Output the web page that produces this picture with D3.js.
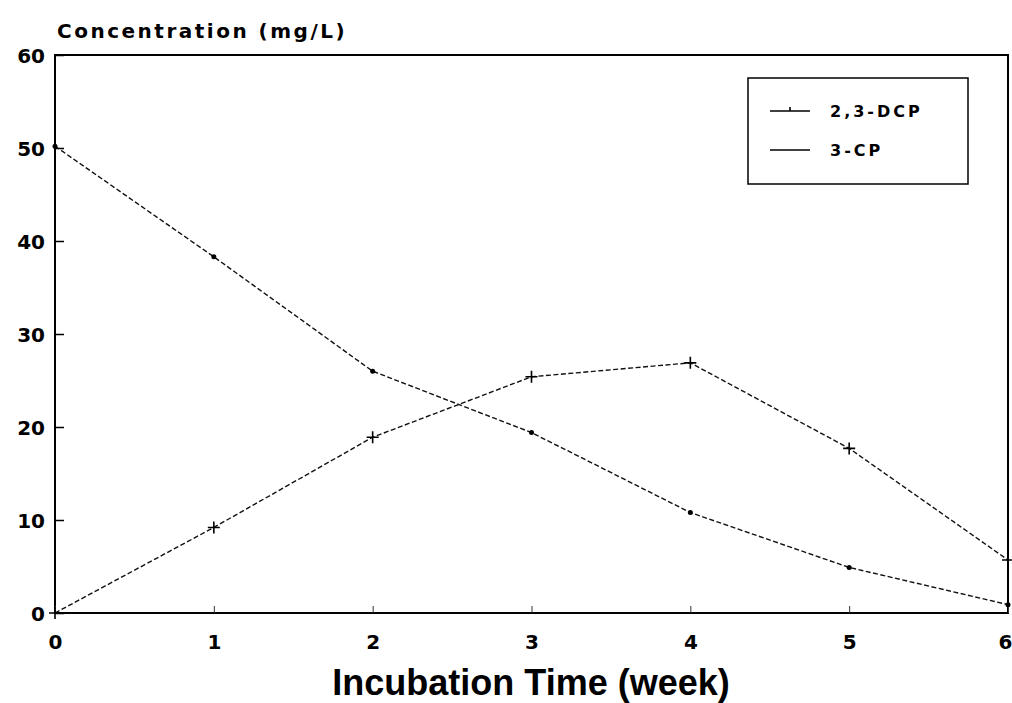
<!doctype html>
<html>
<head>
    <script src="https://d3js.org/d3.v7.min.js"></script>
    <style type="text/css">
        body { margin: 0; background: #fff; }
        svg { font-family: "DejaVu Sans", "Liberation Sans", sans-serif; font-weight: bold; }
        .frame { fill: none; stroke: #000; stroke-width: 2; }
        .series { fill: none; stroke: #111; stroke-width: 1.4; stroke-dasharray: 5 2.5; }
        .tick-lbl { font-size: 20px; fill: #000; font-family: "DejaVu Sans", sans-serif; font-weight: bold; }
    </style>
</head>
<body>
<svg id="board" width="1012" height="703"></svg>
<script type="text/javascript">
    var weeks = [0, 1, 2, 3, 4, 5, 6];
    var dcp = [0, 9.2, 18.9, 25.4, 26.9, 17.7, 5.7];
    var cp = [50.2, 38.3, 26.0, 19.4, 10.8, 4.9, 0.9];
    var yTicks = [0, 10, 20, 30, 40, 50, 60];
    var seriesNames = ["2,3-DCP", "3-CP"];

    var svg = d3.select("#board");

    var x = d3.scaleLinear().domain([0, 6]).range([55, 1008]);
    var y = d3.scaleLinear().domain([0, 60]).range([613, 55]);

    // plot box
    svg.append("rect").attr("class", "frame")
        .attr("x", x(0)).attr("y", y(60))
        .attr("width", x(6) - x(0)).attr("height", y(0) - y(60));

    // y ticks (inside)
    var yAxis = d3.axisLeft(y).tickValues(yTicks).tickFormat(d3.format("d"))
        .tickSizeInner(-9).tickSizeOuter(0);
    var gy = svg.append("g").attr("transform", "translate(" + x(0) + ",0)").call(yAxis);
    gy.select(".domain").remove();
    gy.selectAll("line").attr("stroke", "#000").attr("stroke-width", 1.5);
    gy.selectAll("text").attr("class", "tick-lbl").attr("x", -10).attr("dy", "0.35em");

    // x ticks (inside)
    var xAxis = d3.axisBottom(x).tickValues(weeks).tickFormat(d3.format("d"))
        .tickSizeInner(-7).tickSizeOuter(0);
    var gx = svg.append("g").attr("transform", "translate(0," + y(0) + ")").call(xAxis);
    gx.select(".domain").remove();
    gx.selectAll("line").attr("stroke", "#333").attr("stroke-width", 1);
    gx.selectAll("text").attr("class", "tick-lbl").attr("y", 36).attr("dy", null);
    gx.selectAll("text").filter(function(d) { return d === 6; })
        .attr("text-anchor", "end").attr("x", 4);

    var line = d3.line()
        .x(function(d, i) { return x(weeks[i]); })
        .y(function(d) { return y(d); });

    svg.append("path").datum(dcp).attr("class", "series").attr("d", line);
    svg.append("path").datum(cp).attr("class", "series").attr("d", line);

    // + markers for 2,3-DCP
    svg.append("g").selectAll("path").data(dcp).enter().append("path")
        .attr("d", function(d, i) {
            var cx = x(weeks[i]), cy = y(d);
            return "M" + (cx - 6) + "," + cy + "H" + (cx + 6) + "M" + cx + "," + (cy - 6) + "V" + (cy + 6);
        })
        .attr("stroke", "#000").attr("stroke-width", 1.6);

    // dot markers for 3-CP
    svg.append("g").selectAll("circle").data(cp).enter().append("circle")
        .attr("cx", function(d, i) { return x(weeks[i]); })
        .attr("cy", function(d) { return y(d); })
        .attr("r", 2.5).attr("fill", "#000");

    // legend
    var lg = svg.append("g");
    lg.append("rect").attr("x", 748).attr("y", 78).attr("width", 220).attr("height", 106)
        .attr("fill", "#fff").attr("stroke", "#000").attr("stroke-width", 1.5);
    seriesNames.forEach(function(name, i) {
        var ly = 111 + i * 39;
        lg.append("line").attr("x1", 770).attr("x2", 810).attr("y1", ly).attr("y2", ly)
            .attr("stroke", "#000").attr("stroke-width", 1.6);
        if (i === 0) {
            lg.append("line").attr("x1", 790).attr("x2", 790).attr("y1", ly - 4).attr("y2", ly)
                .attr("stroke", "#000").attr("stroke-width", 1.6);
        }
        lg.append("text").attr("x", 830).attr("y", ly).attr("dy", "0.35em")
            .style("font-size", "16px").style("letter-spacing", "3px").text(name);
    });

    // titles
    svg.append("text").attr("x", 57).attr("y", 38).style("font-size", "20px")
        .style("letter-spacing", "2.5px").text("Concentration (mg/L)");
    svg.append("text").attr("x", 531).attr("y", 695).attr("text-anchor", "middle")
        .style("font-family", "'Liberation Sans', Arial, sans-serif")
        .style("font-size", "36px").text("Incubation Time (week)");
</script>
</body>
</html>
